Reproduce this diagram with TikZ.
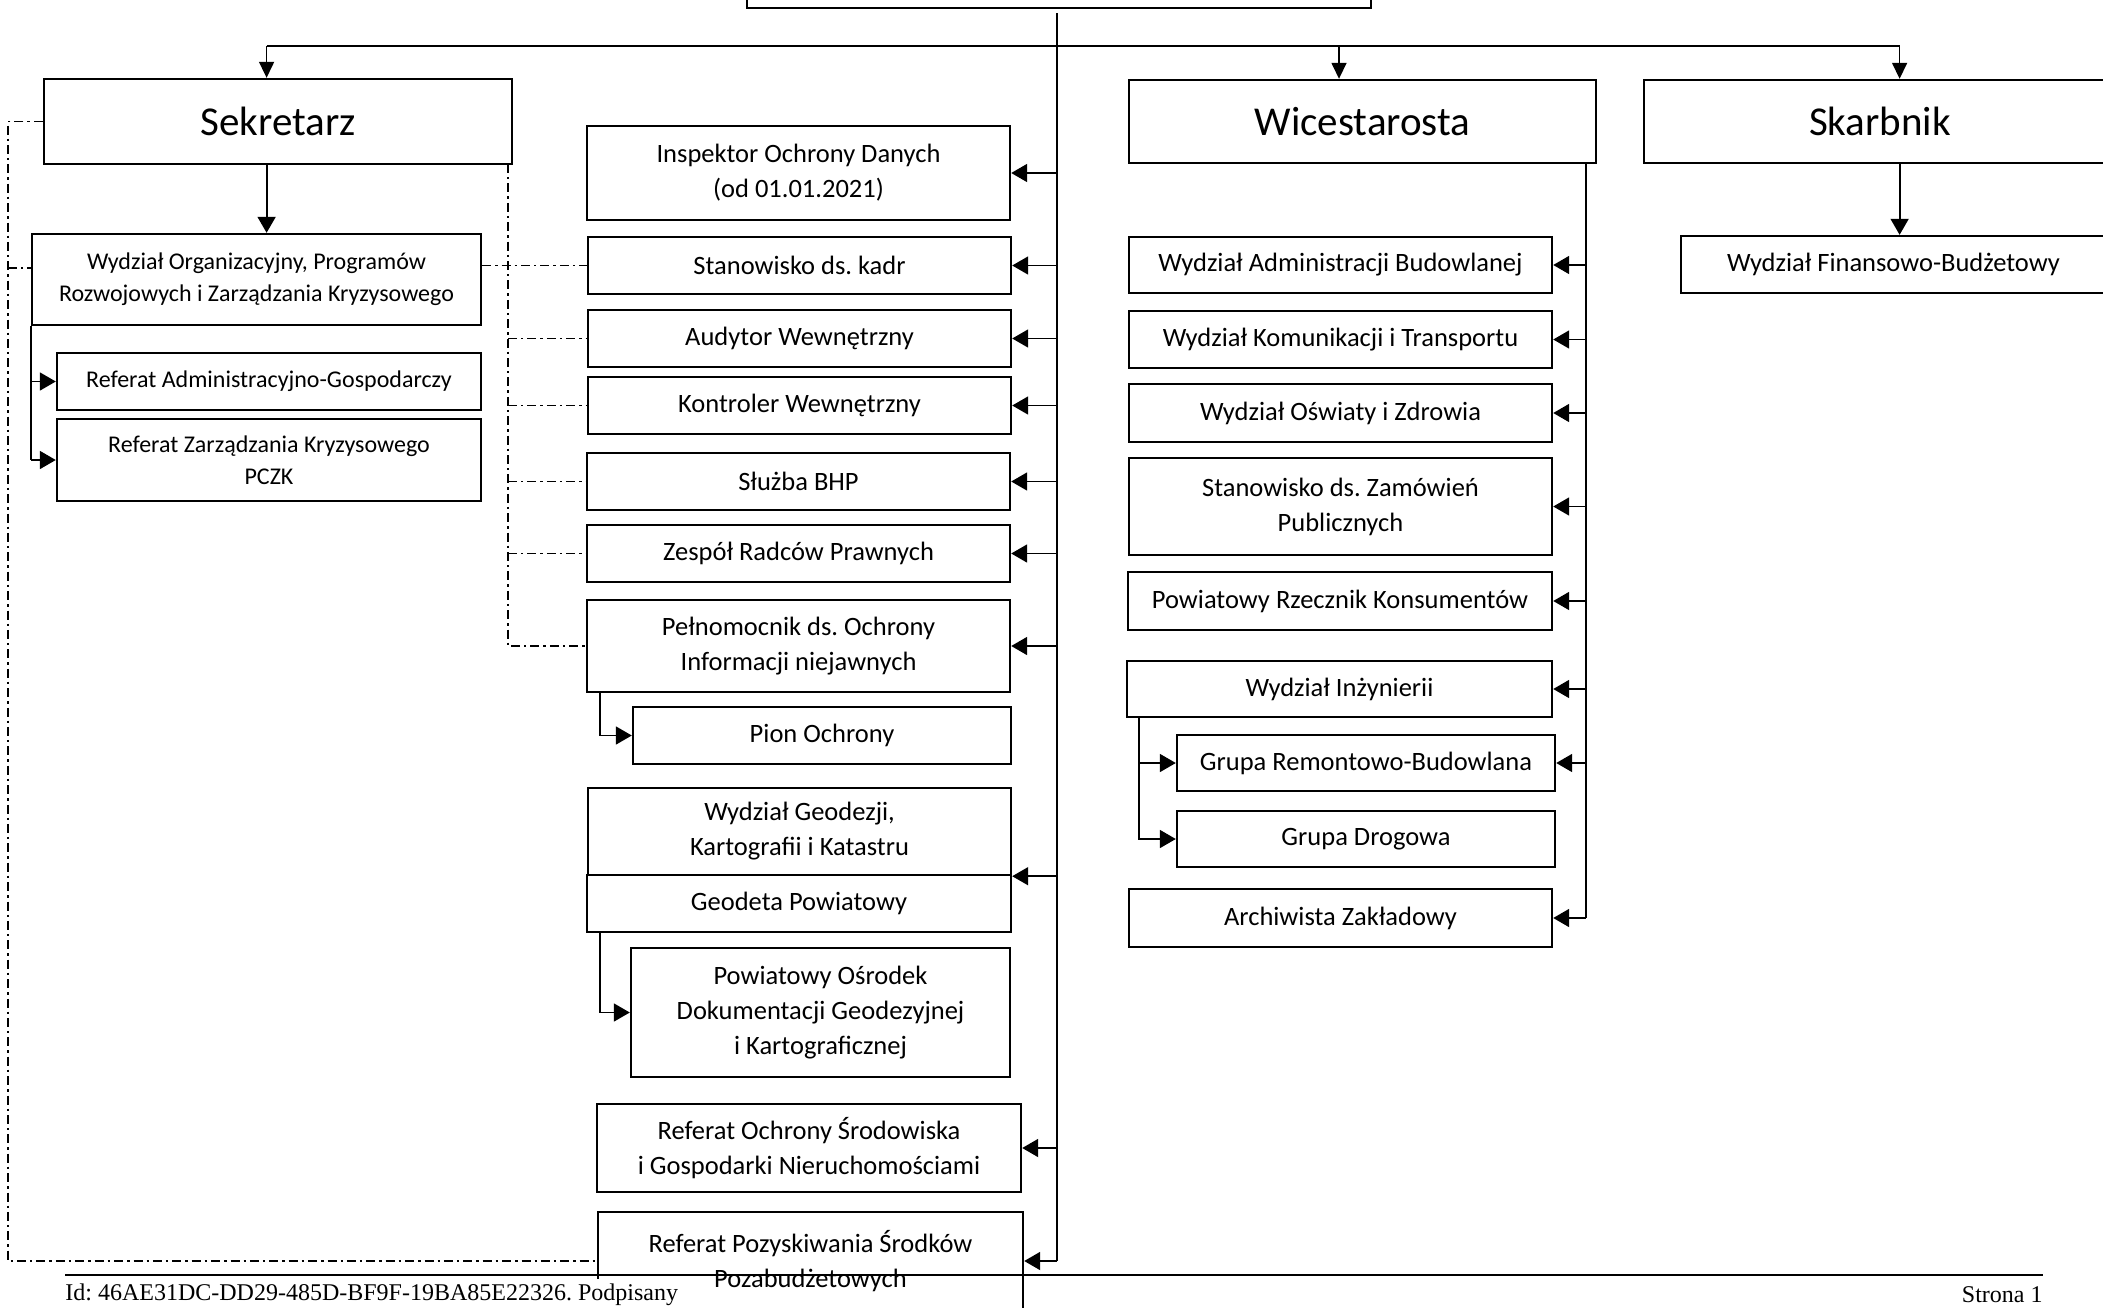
\documentclass[tikz,border=0pt]{standalone}
\usepackage{fontspec}
\setmainfont{Carlito}
\newfontfamily\footfont{Liberation Serif}
\frenchspacing
\usetikzlibrary{arrows.meta,calc}
\tikzset{
  box/.style={draw, line width=1.2pt, inner sep=0pt, align=center, fill=white,
    font=\fontsize{13.25}{17.5}\selectfont},
  lbox/.style={box, font=\fontsize{12}{15.9}\selectfont},
  bigbox/.style={box, font=\fontsize{20.5}{24}\selectfont},
  conn/.style={line width=0.9pt},
  arr/.style={conn, -{Triangle[length=8pt,width=9pt]}},
  bus/.style={line width=0.8pt},
  busarr/.style={bus, -{Triangle[length=8pt,width=7.5pt]}},
  dd/.style={line width=0.85pt, dash pattern=on 4.5pt off 2pt on 1.2pt off 2pt},
  foot/.style={font=\footfont\fontsize{12}{14}\selectfont},
}
% box by its corners (in px): name, style, x1, y1, x2, y2, text
\newcommand\bx[7]{%
  \node[#2, minimum width={(#5-#3)*0.5pt}, minimum height={(#6-#4)*0.5pt}]
    (#1) at ({(#3+#5)/2},{(#4+#6)/2}) {#7};}
\begin{document}
\begin{tikzpicture}[x=0.5pt,y=-0.5pt]
\useasboundingbox (0,0) rectangle (2103,1307);
\clip (0,0) rectangle (2103,1307);
\fill[white] (0,0) rectangle (2103,1307);

% top level (cut off)
\bx{top}{box}{747}{-60}{1371}{8}{}

% second level
\bx{sek}{bigbox}{44}{79}{512}{164}{Sekretarz}
\bx{wice}{bigbox}{1129}{80}{1596}{163}{Wicestarosta}
\bx{skarb}{bigbox}{1644}{80}{2116}{163}{Skarbnik}
\bx{fin}{box}{1681}{236}{2106}{293}{Wydział Finansowo-Budżetowy}

% Sekretarz column
\bx{worg}{lbox}{32}{234}{481}{325}{Wydział Organizacyjny, Programów\\Rozwojowych i Zarządzania Kryzysowego}
\bx{rag}{lbox}{57}{353}{481}{410}{Referat Administracyjno-Gospodarczy}
\bx{rzk}{lbox}{57}{419}{481}{501}{Referat Zarządzania Kryzysowego\\PCZK}

% central column
\bx{insp}{box}{587}{126}{1010}{220}{Inspektor Ochrony Danych\\(od 01.01.2021)}
\bx{kadr}{box}{588}{237}{1011}{294}{Stanowisko ds. kadr}
\bx{aud}{box}{588}{310}{1011}{367}{Audytor Wewnętrzny}
\bx{kontr}{box}{588}{377}{1011}{434}{Kontroler Wewnętrzny}
\bx{bhp}{box}{587}{453}{1010}{510}{Służba BHP}
\bx{zesp}{box}{587}{525}{1010}{582}{Zespół Radców Prawnych}
\bx{pel}{box}{587}{600}{1010}{692}{Pełnomocnik ds. Ochrony\\Informacji niejawnych}
\bx{pion}{box}{633}{707}{1011}{764}{Pion Ochrony}
\bx{geod}{box}{588}{788}{1011}{875}{Wydział Geodezji,\\Kartografii i Katastru}
\bx{geo}{box}{587}{875}{1011}{932}{Geodeta Powiatowy}
\bx{podgik}{box}{631}{948}{1010}{1077}{Powiatowy Ośrodek\\Dokumentacji Geodezyjnej\\i Kartograficznej}
\bx{ros}{box}{597}{1104}{1021}{1192}{Referat Ochrony Środowiska\\i Gospodarki Nieruchomościami}
\bx{rps}{box}{598}{1212}{1023}{1310}{Referat Pozyskiwania Środków\\Pozabudżetowych}

% Wicestarosta column
\bx{wab}{box}{1129}{237}{1552}{293}{Wydział Administracji Budowlanej}
\bx{wkt}{box}{1129}{311}{1552}{368}{Wydział Komunikacji i Transportu}
\bx{woz}{box}{1129}{384}{1552}{442}{Wydział Oświaty i Zdrowia}
\bx{szp}{box}{1129}{458}{1552}{555}{Stanowisko ds. Zamówień\\Publicznych}
\bx{prk}{box}{1128}{572}{1552}{630}{Powiatowy Rzecznik Konsumentów}
\bx{wi}{box}{1127}{661}{1552}{717}{Wydział Inżynierii}
\bx{grb}{box}{1177}{735}{1555}{791}{Grupa Remontowo-Budowlana}
\bx{gd}{box}{1177}{811}{1555}{867}{Grupa Drogowa}
\bx{az}{box}{1129}{889}{1552}{947}{Archiwista Zakładowy}

% bus from the top
\coordinate (bL) at (266.6,46);
\coordinate (bW) at (1339,46);
\coordinate (bS) at (1899.6,46);
\draw[bus] (bL) -- (bS);
\draw[busarr] (bL) -- (bL |- sek.north);
\draw[busarr] (bW) -- (bW |- wice.north);
\draw[busarr] (bS) -- (bS |- skarb.north);
\draw[arr] (bL |- sek.south) -- (bL |- worg.north);
\draw[arr] (bS |- skarb.south) -- (bS |- fin.north);

% central spine
\coordinate (spT) at (1057,13);
\coordinate (spB) at (spT |- rps.east);
\draw[conn] (spT) -- (spB);
\foreach \n in {insp,kadr,aud,kontr,bhp,zesp,pel,ros,rps}
  \draw[arr] (spT |- \n.east) -- (\n.east);
\draw[arr] (spT |- geod.south east) -- (geod.south east);

% Wicestarosta spine
\coordinate (wT) at (1586,163);
\draw[conn] (wT) -- (wT |- az.east);
\foreach \n in {wab,wkt,woz,szp,prk,wi,grb,az}
  \draw[arr] (wT |- \n.east) -- (\n.east);

% sub-branches
\draw[conn] (worg.south west) -- (worg.south west |- rzk.west);
\draw[arr] (worg.south west |- rag.west) -- (rag.west);
\draw[arr] (worg.south west |- rzk.west) -- (rzk.west);
\coordinate (pb) at (600,692);
\draw[arr] (pb) |- (pion.west);
\coordinate (gb) at (600,932);
\draw[arr] (gb) |- (podgik.west);
\coordinate (wib) at (1139,717);
\draw[arr] (wib) |- (gd.west);
\draw[arr] (wib |- grb.west) -- (grb.west);

% dash-dot links
\coordinate (dlx) at (8,125);
\draw[dd] (sek.west) -- (sek.west -| dlx) -- (dlx |- spB) -- (spB -| rps.west);
\coordinate (ws) at (8,268);
\draw[dd] (ws) -- (ws -| worg.west);
\coordinate (drT) at (508,164);
\draw[dd] (drT) |- (pel.west);
\foreach \n in {aud,kontr,bhp,zesp}
  \draw[dd] (drT |- \n.west) -- (\n.west);
\draw[dd] (kadr.west -| worg.east) -- (kadr.west);

% footer
\coordinate (fL) at (65,1275);
\coordinate (fR) at (2043,1275);
\draw[line width=0.6pt] (fL) -- (fR);
\node[foot, anchor=base west, fill=white, inner sep=2pt] (fid) at (61,1300) {Id: 46AE31DC-DD29-485D-BF9F-19BA85E22326. Podpisany};
\node[foot, anchor=base east, inner sep=0pt] (str) at (2043,1302) {Strona 1};
\end{tikzpicture}
\end{document}
